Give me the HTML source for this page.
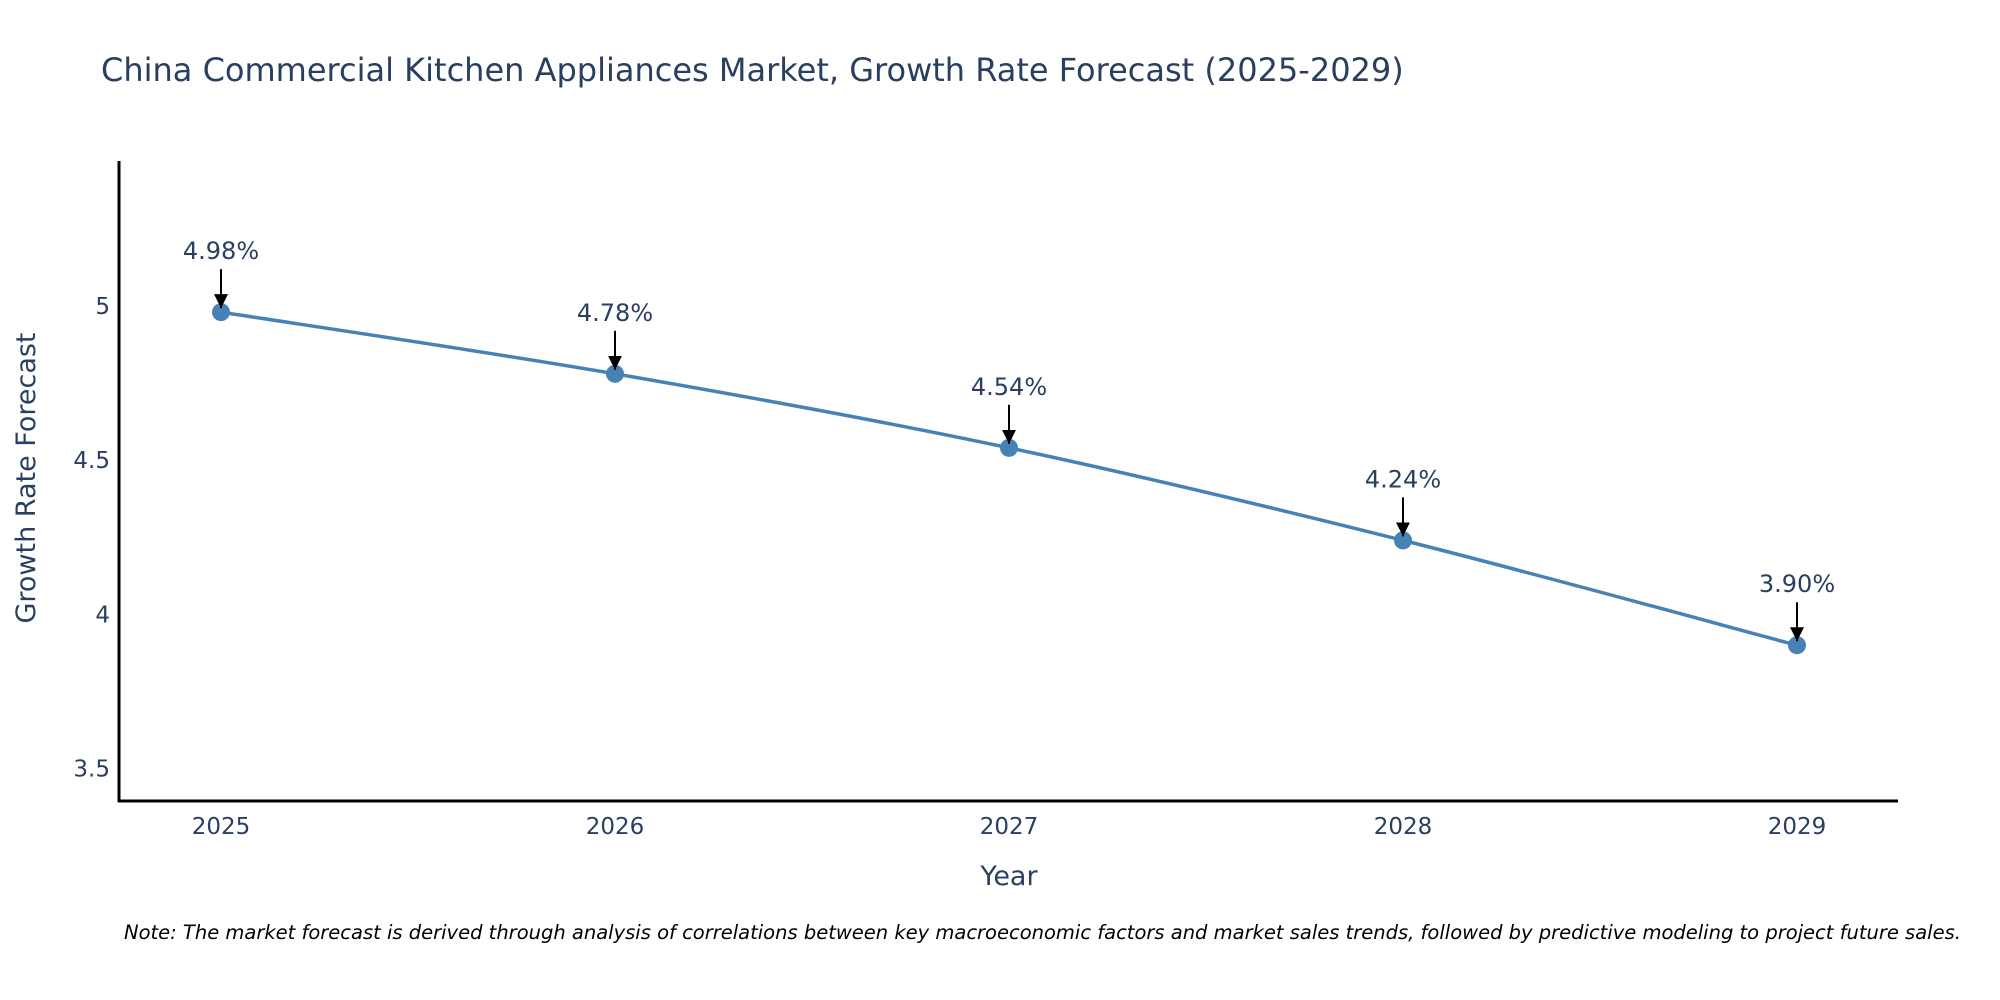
<!DOCTYPE html>
<html><head><meta charset="utf-8"><style>
body{margin:0;background:#fff;}
svg{display:block;font-family:"DejaVu Sans","Liberation Sans",sans-serif;}
</style></head><body>
<svg id="chart" width="2000" height="1000">
<text x="101" y="81" font-size="32" fill="#2a3f5f">China Commercial Kitchen Appliances Market, Growth Rate Forecast (2025-2029)</text>
<g id="plot"></g>
<text x="1009" y="885" font-size="27" fill="#2a3f5f" text-anchor="middle">Year</text>
<text transform="translate(35,478) rotate(-90)" font-size="27" fill="#2a3f5f" text-anchor="middle">Growth Rate Forecast</text>
<text x="124" y="939" font-size="19.5" font-style="italic" fill="#000">Note: The market forecast is derived through analysis of correlations between key macroeconomic factors and market sales trends, followed by predictive modeling to project future sales.</text>
</svg>
<script>
const years=["2025","2026","2027","2028","2029"];
const values=[4.98,4.78,4.54,4.24,3.90];
const labels=["4.98%","4.78%","4.54%","4.24%","3.90%"];
const yTicks=[3.5,4,4.5,5];
const ns="http://www.w3.org/2000/svg";
const g=document.getElementById("plot");
const X0=221,X1=1797,Ymin=3.395,Ymax=5.47,PT=161,PB=801;
const xs=i=>X0+(X1-X0)*i/(years.length-1);
const ys=v=>PB-(v-Ymin)/(Ymax-Ymin)*(PB-PT);
function mk(t,a){const e=document.createElementNS(ns,t);for(const k in a)e.setAttribute(k,a[k]);g.appendChild(e);return e;}
const defs=mk("defs",{});
defs.innerHTML='<marker id="ah" viewBox="0 0 10 10" refX="10" refY="5" markerWidth="7" markerHeight="7" orient="auto"><path d="M0,0L10,5L0,10z" fill="#000"/></marker>';
const ya=mk("line",{x1:119,y1:PT,x2:119,y2:PB+1,stroke:"#000","stroke-width":3});


const xa=mk("line",{x1:118,y1:PB,x2:1898,y2:PB,stroke:"#000","stroke-width":3});


yTicks.forEach(v=>{const t=mk("text",{x:110,y:ys(v)+8,"font-size":23,fill:"#2a3f5f","text-anchor":"end"});t.textContent=v;

});
years.forEach((y,i)=>{const t=mk("text",{x:xs(i),y:834,"font-size":23,fill:"#2a3f5f","text-anchor":"middle"});t.textContent=y;

});
const P=values.map((v,i)=>[xs(i),ys(v)]);
let d=`M${P[0][0]},${P[0][1]}`;
for(let i=0;i<P.length-1;i++){const p0=P[i-1]||P[i],p1=P[i],p2=P[i+1],p3=P[i+2]||P[i+1],s=6;
d+=` C${p1[0]+(p2[0]-p0[0])/s},${p1[1]+(p2[1]-p0[1])/s} ${p2[0]-(p3[0]-p1[0])/s},${p2[1]-(p3[1]-p1[1])/s} ${p2[0]},${p2[1]}`;}
const ln=mk("path",{d:d,fill:"none",stroke:"#4682b4","stroke-width":3.5});


values.forEach((v,i)=>{const c=mk("circle",{cx:xs(i),cy:ys(v),r:9,fill:"#4682b4"});


const a=mk("line",{x1:xs(i),y1:ys(v)-43,x2:xs(i),y2:ys(v)-4,stroke:"#000","stroke-width":2,"marker-end":"url(#ah)"});


const t=mk("text",{x:xs(i),y:ys(v)-53,"font-size":24,fill:"#2a3f5f","text-anchor":"middle"});t.textContent=labels[i];

});
</script>
</body></html>
